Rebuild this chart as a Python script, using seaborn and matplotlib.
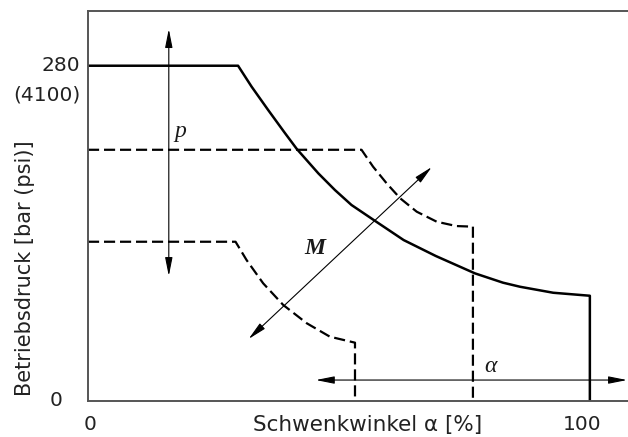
import numpy as np
import pandas as pd
import matplotlib
matplotlib.use("Agg")
import matplotlib.pyplot as plt
import seaborn as sns

# curve data (swivel angle %, pressure bar)
max_alpha = [0, 29.9, 32.6, 35.9, 39.2, 41.6, 45.9, 49.2, 52.5, 57.2, 62.9,
             69.3, 77.1, 82.7, 86.1, 92.7, 100, 100]
max_p = [280, 280, 262.5, 243, 224, 210.5, 190.1, 176.2, 163.7, 150.4, 134.4,
         121.1, 106.6, 98.8, 95.4, 90.4, 87.9, 0]

mid_alpha = [0, 54.5, 56.8, 59.5, 62.2, 65.5, 69.5, 73.4, 76.7, 76.7]
mid_p = [209.8, 209.8, 195.7, 181.8, 169.3, 158.1, 149.7, 146.1, 145.6, 0]

low_alpha = [0, 29.4, 31.6, 34.9, 38.9, 43.6, 48.2, 53.2, 53.2]
low_p = [133, 133, 117.7, 98.3, 80.2, 64.9, 53.7, 48.7, 0]

# annotation arrows (start, end) in data units
p_arrow = [(16.1, 104.4), (16.1, 310.6)]
m_arrow = [(32.0, 51.8), (68.5, 195.4)]
a_arrow = [(45.4, 17.5), (107.4, 17.5)]

sns.set_style("white")
plt.rcParams['font.family'] = ['DejaVu Sans']

fig = plt.figure(figsize=(6.28, 4.37), dpi=100)
ax = fig.add_axes([88/628, 36/437, 540/628, 390/437])

sns.lineplot(x=max_alpha, y=max_p, sort=False, estimator=None, ax=ax,
             color='black', lw=1.8)
sns.lineplot(x=mid_alpha, y=mid_p, sort=False, estimator=None, ax=ax,
             color='black', lw=1.6)
sns.lineplot(x=low_alpha, y=low_p, sort=False, estimator=None, ax=ax,
             color='black', lw=1.6)
for ln in ax.lines:
    ln.set_solid_joinstyle('round')
for ln in ax.lines[1:]:
    ln.set_dashes((5, 2.2))

ax.set_xlim(0, 107.6)
ax.set_ylim(0, 325.7)

for (s, e) in [p_arrow, m_arrow, a_arrow]:
    ax.annotate('', xy=e, xytext=s,
                arrowprops=dict(arrowstyle='<|-|>,head_length=0.8,head_width=0.16',
                                color='black', lw=0.8,
                                mutation_scale=14, shrinkA=0, shrinkB=0))

serif = dict(family='Liberation Serif', style='italic', fontsize=17, color='#1a1a1a')
ax.text(18.3, 225, 'p', ha='center', va='center', **serif)
ax.text(45.2, 127.5, 'M', ha='center', va='center', weight='bold', **serif)
ax.text(80.2, 29, 'α', ha='center', va='center', **serif)

# tick labels
ax.set_xticks([])
ax.set_yticks([])
ytr = ax.get_yaxis_transform()
xtr = ax.get_xaxis_transform()
fs = 14.5
tc = '#222222'
ax.text(-0.014, 280, '280', transform=ytr, ha='right', va='center', fontsize=fs, color=tc)
ax.text(-0.014, 255.5, '(4100)', transform=ytr, ha='right', va='center', fontsize=fs, color=tc)
ax.text(-0.048, 0, '0', transform=ytr, ha='right', va='center', fontsize=fs, color=tc)
ax.text(0.4, -0.0615, '0', transform=xtr, ha='center', va='center', fontsize=fs, color=tc)
ax.text(98.4, -0.0615, '100', transform=xtr, ha='center', va='center', fontsize=fs, color=tc)

ax.set_xlabel('Schwenkwinkel α [%]', fontsize=15.5, color=tc)
ax.xaxis.label.set_va('center')
ax.xaxis.set_label_coords(0.5185, -0.0615)
ax.set_ylabel('Betriebsdruck [bar (psi)]', fontsize=15, color=tc)
ax.yaxis.label.set_va('center')
ax.yaxis.set_label_coords(-0.1167, 0.341)

for side in ['top', 'left', 'bottom']:
    ax.spines[side].set_color('#555555')
    ax.spines[side].set_linewidth(1.4)
ax.spines['right'].set_visible(False)

fig.savefig('out.png', dpi=100)
